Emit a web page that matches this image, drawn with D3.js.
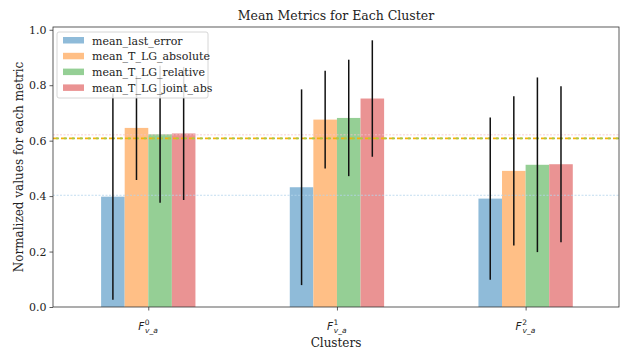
<!DOCTYPE html>
<html>
<head>
<meta charset="utf-8">
<script src="https://cdn.jsdelivr.net/npm/d3@7"></script>
<style>
  body { margin: 0; background: #fff; }
  text { font-family: "DejaVu Serif", serif; fill: #222; }
</style>
</head>
<body>
<div id="chart"></div>
<script>
// data
var clusters = ["0", "1", "2"];
var metrics = ["mean_last_error", "mean_T_LG_absolute", "mean_T_LG_relative", "mean_T_LG_joint_abs"];
var meanLastError = [0.398, 0.432, 0.391];
var meanAbsolute = [0.646, 0.676, 0.491];
var meanRelative = [0.623, 0.682, 0.513];
var meanJointAbs = [0.626, 0.752, 0.515];
var errLastError = [0.372, 0.353, 0.293];
var errAbsolute = [0.188, 0.176, 0.269];
var errRelative = [0.247, 0.21, 0.315];
var errJointAbs = [0.24, 0.21, 0.281];
// reference lines (one per metric)
var refLines = [0.403, 0.608, 0.608, 0.621];
var yTicks = [0.0, 0.2, 0.4, 0.6, 0.8, 1.0];
var colors = ["#8fbbd9", "#ffbf86", "#95cf95", "#ea9393"];

var values = [meanLastError, meanAbsolute, meanRelative, meanJointAbs];
var errors = [errLastError, errAbsolute, errRelative, errJointAbs];

//dimensions
var width = 622, height = 354;
var margin = { top: 27, left: 53, right: 3, bottom: 47 };
var innerW = width - margin.left - margin.right;
var innerH = height - margin.top - margin.bottom;

var svg = d3.select("#chart").append("svg")
    .attr("width", width)
    .attr("height", height);

var g = svg.append("g")
    .attr("transform", "translate(" + margin.left + "," + margin.top + ")");

var x = d3.scaleLinear().domain([-0.505, 2.495]).range([0, innerW]);
var y = d3.scaleLinear().domain([0, 1.01]).range([innerH, 0]);
var barW = x(0.125) - x(0);

// bars
metrics.forEach(function(m, k) {
    var rows = clusters.map(function(c, i) {
        return { i: i, v: values[k][i], e: errors[k][i] };
    });
    var offset = (k - 1.5) * 0.125;
    g.selectAll(".bar-" + k)
        .data(rows)
        .enter()
        .append("rect")
        .attr("x", function(d) { return x(d.i + offset) - barW / 2; })
        .attr("y", function(d) { return y(d.v); })
        .attr("width", barW)
        .attr("height", function(d) { return innerH - y(d.v); })
        .attr("fill", colors[k]);
});

// horizontal reference lines
var lineStyles = [
    { c: "#b5d5ec", w: 0.8, dash: "2,1.5", off: 0 },
    { c: "#f5b10c", w: 1.7, dash: "5,3", off: 0 },
    { c: "#a8c94a", w: 1.7, dash: "3,5", off: 5 },
    { c: "#f6bfcb", w: 0.8, dash: "2,1.5", off: 0 }
];
[0, 3, 1, 2].forEach(function(k) {
    var s = lineStyles[k];
    g.append("line").attr("x1", 0).attr("x2", innerW)
        .attr("y1", y(refLines[k])).attr("y2", y(refLines[k]))
        .attr("stroke", s.c).attr("stroke-width", s.w)
        .attr("stroke-dasharray", s.dash).attr("stroke-dashoffset", s.off);
});

// error bars
metrics.forEach(function(m, k) {
    var offset = (k - 1.5) * 0.125;
    g.selectAll(".err-" + k)
        .data(clusters.map(function(c, i) { return { i: i, v: values[k][i], e: errors[k][i] }; }))
        .enter()
        .append("line")
        .attr("x1", function(d) { return x(d.i + offset); })
        .attr("x2", function(d) { return x(d.i + offset); })
        .attr("y1", function(d) { return y(d.v - d.e); })
        .attr("y2", function(d) { return y(d.v + d.e); })
        .attr("stroke", "#111")
        .attr("stroke-width", 1.5);
});

// axes
var yAxis = g.append("g").call(d3.axisLeft(y).tickValues(yTicks).tickFormat(d3.format(".1f")).tickSize(3.5).tickPadding(3));
var xAxis = g.append("g").attr("transform", "translate(0," + innerH + ")")
    .call(d3.axisBottom(x).tickValues([0, 1, 2]).tickFormat("").tickSize(3.5));
[yAxis, xAxis].forEach(function(a) {
    a.select(".domain").remove();
    a.selectAll("line").attr("stroke", "#333").attr("stroke-width", 0.8);
    a.selectAll("text").style("font-family", "DejaVu Serif").style("font-size", "11px").attr("fill", "#222");
});

// frame
g.append("rect").attr("width", innerW).attr("height", innerH)
    .attr("fill", "none").attr("stroke", "#333").attr("stroke-width", 0.8);

// x tick labels F^k_{v_a}
clusters.forEach(function(c, i) {
    var t = g.append("text")
        .attr("x", x(i) - 10)
        .attr("y", innerH + 23)
        .style("font-family", "DejaVu Sans")
        .style("font-style", "italic")
        .style("font-size", "10.5px");
    t.append("tspan").text("F");
    t.append("tspan").attr("dy", -5).attr("dx", 0.5).style("font-size", "7.5px").style("font-style", "normal").text(c);
    t.append("tspan").attr("dy", 8).attr("dx", -4.5).style("font-size", "7.5px").text("v_a");
});

// legend
var lg = g.append("g").attr("transform", "translate(4,5)");
lg.append("rect").attr("width", 151).attr("height", 66).attr("rx", 2)
    .attr("fill", "#fff").attr("fill-opacity", 0.85).attr("stroke", "#ccc").attr("stroke-width", 0.8);
metrics.forEach(function(m, k) {
    lg.append("rect").attr("x", 6).attr("y", 5 + k * 15.8).attr("width", 21).attr("height", 6.5).attr("fill", colors[k]);
    lg.append("text").attr("x", 35).attr("y", 12.5 + k * 15.8)
        .style("font-size", "11px").text(m);
});

// titles
svg.append("text").attr("x", margin.left + innerW / 2).attr("y", 20)
    .attr("text-anchor", "middle").style("font-size", "12.5px").text("Mean Metrics for Each Cluster");
svg.append("text").attr("x", margin.left + innerW / 2).attr("y", 347)
    .attr("text-anchor", "middle").style("font-size", "12px").text("Clusters");
svg.append("text")
    .attr("transform", "translate(23," + (margin.top + innerH / 2) + ") rotate(-90)")
    .attr("text-anchor", "middle").style("font-size", "12px").text("Normalized values for each metric");
</script>
</body>
</html>
